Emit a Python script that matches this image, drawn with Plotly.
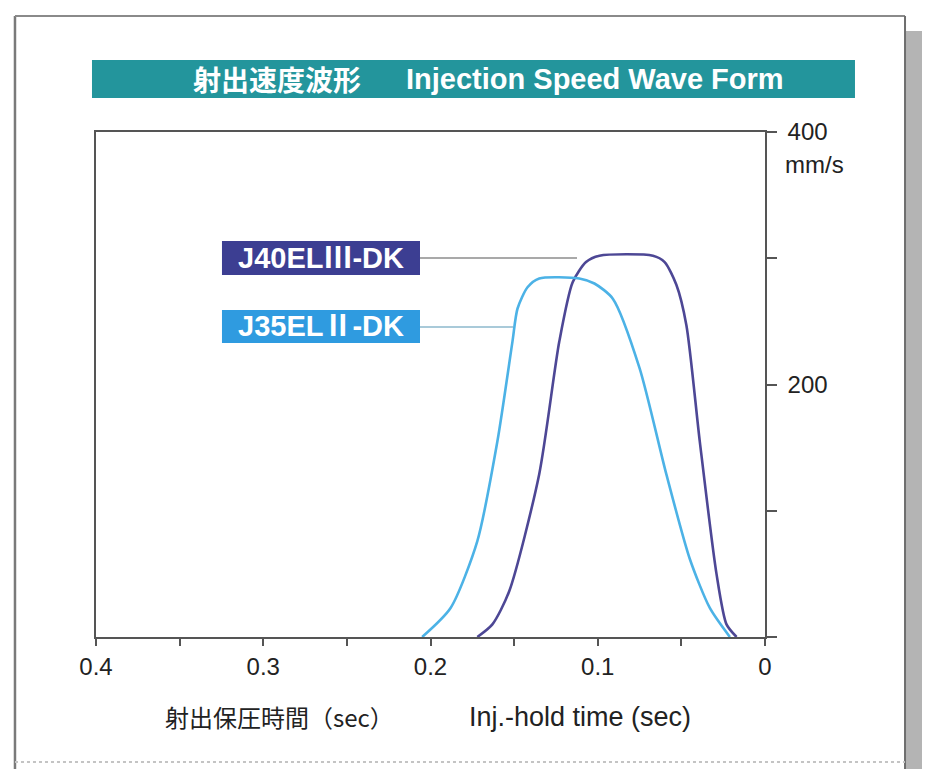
import plotly.graph_objects as go

# ---- data ----
series_names = ["J40ELⅢ-DK", "J35ELⅡ-DK"]

j40_time = [0.172, 0.163, 0.153, 0.135, 0.123, 0.115, 0.107, 0.099, 0.067, 0.060, 0.053, 0.047, 0.039, 0.029, 0.023, 0.017]
j40_speed = [0, 10, 36, 129, 234, 281, 297, 302, 302, 297, 279, 247, 155, 50, 10, 0]

j35_time = [0.205, 0.188, 0.172, 0.160, 0.151, 0.148, 0.142, 0.135, 0.111, 0.102, 0.091, 0.075, 0.059, 0.045, 0.033, 0.021]
j35_speed = [0, 23, 76, 155, 234, 260, 277, 284, 284, 280, 268, 213, 129, 62, 23, 0]

x_tick_vals = [0.4, 0.35, 0.3, 0.25, 0.2, 0.15, 0.1, 0.05, 0.0]
x_tick_text = ["0.4", "", "0.3", "", "0.2", "", "0.1", "", "0"]
y_tick_vals = [0, 100, 200, 300, 400]
y_tick_text = ["", "", "200", "", "400"]

title_jp = "射出速度波形"
title_en = "Injection Speed Wave Form"
xlabel_jp = "射出保圧時間（sec）"
xlabel_en = "Inj.-hold time (sec)"
y_unit = "mm/s"

# ---- styles ----
C_J40 = "#4d4795"
C_J35 = "#4cb2e6"
C_J40_BOX = "#3c3e92"
C_J35_BOX = "#2f9be0"
C_BANNER = "#23959c"
FONT = "Liberation Sans, Arial, Noto Sans CJK JP, sans-serif"
FONT_JP = "Noto Sans CJK JP, sans-serif"
TXT = "#222222"

fig = go.Figure()
fig.add_trace(go.Scatter(x=j40_time, y=j40_speed, mode="lines", name=series_names[0],
                         line=dict(color=C_J40, width=2.6, shape="spline", smoothing=0.7)))
fig.add_trace(go.Scatter(x=j35_time, y=j35_speed, mode="lines", name=series_names[1],
                         line=dict(color=C_J35, width=2.6, shape="spline", smoothing=0.7)))

shapes = []
# outer page frame
shapes.append(dict(type="line", xref="paper", yref="paper", x0=-0.1211, x1=-0.1211, y0=1.2297, y1=-0.30,
                   line=dict(color="#7a7a7a", width=2.5)))
shapes.append(dict(type="line", xref="paper", yref="paper", x0=-0.1211, x1=1.2093, y0=1.2297, y1=1.2297,
                   line=dict(color="#8a8a8a", width=2)))
shapes.append(dict(type="rect", xref="paper", yref="paper", x0=1.2093, x1=1.26, y0=1.20, y1=-0.30,
                   fillcolor="#b4b4b4", line=dict(width=0), layer="below"))
shapes.append(dict(type="line", xref="paper", yref="paper", x0=1.2093, x1=1.2093, y0=1.2297, y1=-0.30,
                   line=dict(color="#6e6e6e", width=2)))
shapes.append(dict(type="line", xref="paper", yref="paper", x0=-0.1211, x1=1.2093, y0=-0.2475, y1=-0.2475,
                   line=dict(color="#c4c4c4", width=2, dash="dot")))
# title banner
shapes.append(dict(type="rect", xref="paper", yref="paper", x0=-0.006, x1=1.1345, y0=1.0673, y1=1.1426,
                   fillcolor=C_BANNER, line=dict(width=0)))
# legend boxes
shapes.append(dict(type="rect", xref="paper", yref="paper", x0=0.1883, x1=0.4843, y0=0.7168, y1=0.7842,
                   fillcolor=C_J40_BOX, line=dict(width=0)))
shapes.append(dict(type="rect", xref="paper", yref="paper", x0=0.1883, x1=0.4843, y0=0.5822, y1=0.6475,
                   fillcolor=C_J35_BOX, line=dict(width=0)))
# leader lines
shapes.append(dict(type="line", xref="paper", yref="paper", x0=0.4843, x1=0.719, y0=0.7505, y1=0.7505,
                   line=dict(color="#8c8c8c", width=1.5)))
shapes.append(dict(type="line", xref="paper", yref="paper", x0=0.4843, x1=0.6233, y0=0.6139, y1=0.6139,
                   line=dict(color="#8cb8cc", width=1.5)))

annotations = [
    dict(text="<b>" + title_jp + "</b>", xref="paper", yref="paper", x=0.2706, y=1.105, showarrow=False,
         font=dict(family=FONT_JP, size=28, color="white"), xanchor="center", yanchor="middle"),
    dict(text="<b>" + title_en + "</b>", xref="paper", yref="paper", x=0.7459, y=1.105, showarrow=False,
         font=dict(family=FONT, size=29, color="white"), xanchor="center", yanchor="middle"),
    dict(text="<b>" + series_names[0] + "</b>", xref="paper", yref="paper", x=0.3363, y=0.7505, showarrow=False,
         font=dict(family=FONT, size=29, color="white"), xanchor="center", yanchor="middle"),
    dict(text="<b>" + series_names[1] + "</b>", xref="paper", yref="paper", x=0.3363, y=0.6149, showarrow=False,
         font=dict(family=FONT, size=29, color="white"), xanchor="center", yanchor="middle"),
    dict(text=y_unit, xref="paper", yref="paper", x=1.0269, y=0.9366, showarrow=False,
         font=dict(family=FONT, size=24, color=TXT), xanchor="left", yanchor="middle"),
    dict(text=xlabel_jp, xref="paper", yref="paper", x=0.275, y=-0.158, showarrow=False,
         font=dict(family=FONT_JP, size=24, color=TXT), xanchor="center", yanchor="middle"),
    dict(text=xlabel_en, xref="paper", yref="paper", x=0.7235, y=-0.158, showarrow=False,
         font=dict(family=FONT, size=27, color=TXT), xanchor="center", yanchor="middle"),
]

fig.update_layout(
    width=930, height=769,
    margin=dict(l=88, r=173, t=124, b=140),
    paper_bgcolor="white", plot_bgcolor="white",
    showlegend=False,
    shapes=shapes, annotations=annotations,
    font=dict(family=FONT, size=24, color=TXT),
)
fig.update_xaxes(range=[0.4, 0.0], tickvals=x_tick_vals, ticktext=x_tick_text,
                 showgrid=False, zeroline=False, showline=True, mirror=True,
                 linecolor="#555555", linewidth=1.5, ticks="outside", ticklen=7,
                 tickcolor="#555555", tickwidth=1.5,
                 tickfont=dict(family=FONT, size=24, color=TXT))
fig.update_yaxes(range=[0, 400], side="right", tickvals=y_tick_vals, ticktext=y_tick_text,
                 showgrid=False, zeroline=False, showline=True, mirror=True,
                 linecolor="#555555", linewidth=1.5, ticks="outside", ticklen=10,
                 tickcolor="#555555", tickwidth=1.5, ticklabelstandoff=6,
                 tickfont=dict(family=FONT, size=24, color=TXT))

fig.write_html("out.html")
